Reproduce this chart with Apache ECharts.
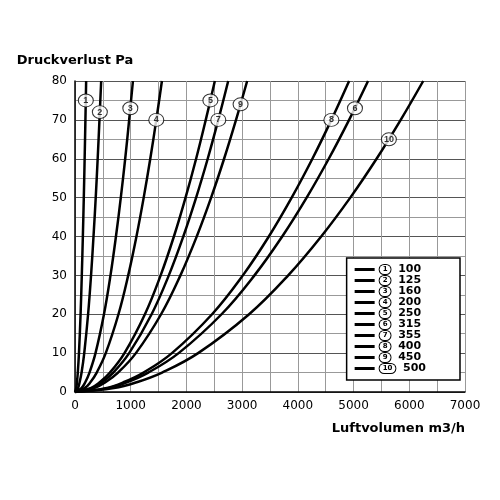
<!DOCTYPE html><html><head><meta charset="utf-8"><script src="https://cdn.jsdelivr.net/npm/echarts@6/dist/echarts.min.js"></script></head><body style="margin:0"><div id="c" style="width:500px;height:500px"></div><script>
const diameters=['100','125','160','200','250','315','355','400','450','500'];
const pressures=[0,1,2.5,5,10,20,30,40,50,60,70,80];
const flows=[
[0,22,35,50,71,100,122,141,158,173,187,200],
[0,53,83,118,166,235,288,332,372,407,439,470],
[0,116,184,260,368,520,637,735,822,901,972,1040],
[0,174,276,390,552,780,955,1103,1233,1351,1459,1560],
[0,281,444,628,888,1255,1537,1775,1984,2174,2347,2510],
[0,588,930,1315,1860,2630,3221,3719,4158,4555,4920,5260],
[0,307,486,688,972,1375,1684,1944,2174,2382,2572,2750],
[0,550,870,1230,1740,2460,3013,3479,3889,4261,4602,4920],
[0,345,546,773,1093,1545,1892,2185,2443,2676,2890,3090],
[0,699,1105,1563,2210,3125,3827,4419,4941,5413,5846,6250]];
const labelPts=[[194,75],[446,72],[993,73],[1459,70],[2430,75],[5025,73],[2572,70],[4602,70],[2972,74],[5634,65]];
const series=diameters.map((d,i)=>({name:d,type:'line',smooth:0.4,showSymbol:false,
 lineStyle:{color:'#000',width:2.5},itemStyle:{color:'#000'},data:flows[i].map((x,j)=>[x,pressures[j]])}));
series.push({type:'scatter',symbol:'circle',data:labelPts.map((p,i)=>({value:p,name:String(i+1)})),
 symbolSize:[15,13],itemStyle:{color:'#fff',borderColor:'#000',borderWidth:1},z:5,
 label:{show:true,position:'inside',formatter:'{b}',fontSize:9,fontWeight:'bold',color:'#000'}});
const ch=echarts.init(document.getElementById('c'));
ch.setOption({animation:false,
 grid:{left:75,right:35,top:81,bottom:108},
 xAxis:{type:'value',min:0,max:7000,interval:1000,name:'Luftvolumen m3/h',nameLocation:'end',nameGap:0,
  nameTextStyle:{fontWeight:'bold',fontSize:13,fontFamily:'DejaVu Sans',color:'#000',align:'right',verticalAlign:'top',padding:[30,0,0,0]},
  axisLine:{lineStyle:{color:'#000',width:1.5}},axisTick:{show:false},minorTick:{show:false,splitNumber:2},
  minorSplitLine:{show:true,lineStyle:{color:'#999'}},splitLine:{lineStyle:{color:'#999'}},
  axisLabel:{color:'#000',fontSize:12,fontFamily:'DejaVu Sans',formatter:v=>String(v)}},
 yAxis:{type:'value',min:0,max:80,interval:10,name:'Druckverlust Pa',nameGap:14,
  nameTextStyle:{fontWeight:'bold',fontSize:13,fontFamily:'DejaVu Sans',color:'#000',align:'center'},
  axisLine:{show:true,lineStyle:{color:'#000',width:1.5}},axisTick:{show:false},minorTick:{show:false,splitNumber:2},
  minorSplitLine:{show:true,lineStyle:{color:'#999'}},splitLine:{lineStyle:{color:'#555'}},
  axisLabel:{color:'#000',fontSize:12,fontFamily:'DejaVu Sans'}},
 legend:{data:diameters,orient:'vertical',right:40,bottom:120,itemGap:0,itemWidth:20,itemHeight:3,
  icon:'rect',backgroundColor:'#fff',borderColor:'#000',borderWidth:1.5,padding:[6,34,6,8],
  formatter:n=>'{c|'+(diameters.indexOf(n)+1)+'}  '+n,
  textStyle:{fontWeight:'bold',fontSize:11,color:'#000',fontFamily:'DejaVu Sans',
   rich:{c:{fontSize:7,borderColor:'#000',borderWidth:1,borderRadius:6,padding:[1,3],backgroundColor:'#fff'}}}},
 series});
</script></body></html>
